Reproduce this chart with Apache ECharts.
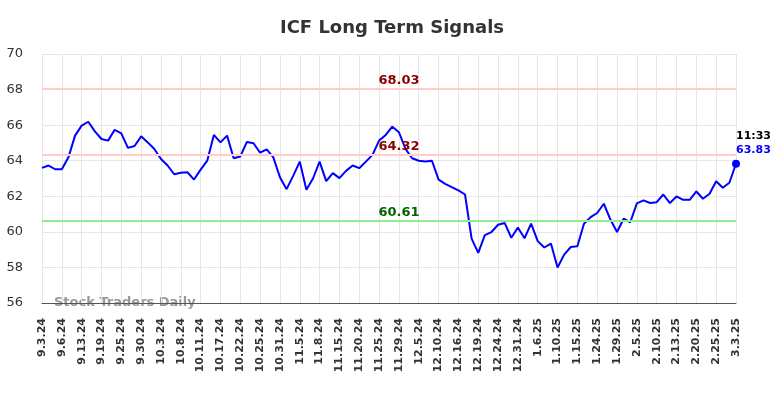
<!DOCTYPE html>
<html>
<head>
<meta charset="utf-8">
<script src="https://cdn.jsdelivr.net/npm/echarts@6/dist/echarts.min.js"></script>
<style>
  html, body { margin: 0; padding: 0; background: #fff; }
  #chart { width: 784px; height: 398px; }
</style>
</head>
<body>
<div id="chart"></div>
<script>
// tick labels, one every third data point
var tickLabels = ['9.3.24','9.6.24','9.13.24','9.19.24','9.25.24','9.30.24','10.3.24','10.8.24',
  '10.11.24','10.17.24','10.22.24','10.25.24','10.31.24','11.5.24','11.8.24','11.15.24','11.20.24',
  '11.25.24','11.29.24','12.5.24','12.10.24','12.16.24','12.19.24','12.24.24','12.31.24','1.6.25',
  '1.10.25','1.15.25','1.24.25','1.29.25','2.5.25','2.10.25','2.13.25','2.20.25','2.25.25','3.3.25'];

var prices = [63.6,63.73,63.52,63.52,64.19,65.41,65.97,66.19,65.65,65.22,65.13,65.74,65.54,64.72,64.83,
  65.37,65.03,64.66,64.1,63.73,63.24,63.32,63.35,62.94,63.5,64.0,65.45,65.03,65.41,64.14,64.24,65.05,
  64.98,64.45,64.64,64.19,63.07,62.4,63.15,63.95,62.37,63.0,63.95,62.85,63.3,63.02,63.43,63.73,63.58,
  63.95,64.33,65.13,65.45,65.91,65.6,64.66,64.14,64.0,63.95,64.0,62.94,62.7,62.51,62.33,62.1,59.62,
  58.82,59.82,59.99,60.4,60.5,59.67,60.24,59.64,60.46,59.48,59.12,59.34,58.0,58.72,59.15,59.19,60.46,
  60.83,61.06,61.58,60.69,59.99,60.74,60.54,61.6,61.77,61.62,61.67,62.1,61.62,61.99,61.8,61.8,62.27,
  61.86,62.14,62.85,62.48,62.76,63.83];

var upperLevel = 68.03;
var midLevel = 64.32;
var lowerLevel = 60.61;
var lastTime = '11:33';

var categories = prices.map(function (v, i) {
  return i % 3 === 0 ? tickLabels[i / 3] : '';
});

var seriesData = prices.map(function (v, i) {
  if (i === prices.length - 1) {
    return {
      value: v,
      symbol: 'circle',
      symbolSize: 8,
      label: {
        show: true,
        position: 'top',
        align: 'left',
        distance: 3,
        formatter: '{t|' + lastTime + '}\n{v|' + v.toFixed(2) + '}',
        rich: {
          t: { color: '#000', fontWeight: 'bold', fontSize: 11, lineHeight: 14, fontFamily: 'DejaVu Sans' },
          v: { color: '#0000ff', fontWeight: 'bold', fontSize: 11, lineHeight: 14, fontFamily: 'DejaVu Sans' }
        }
      }
    };
  }
  return v;
});

var chart = echarts.init(document.getElementById('chart'));
chart.setOption({
  animation: false,
  title: {
    text: 'ICF Long Term Signals',
    left: 'center',
    top: 14,
    textStyle: { fontSize: 18, fontWeight: 'bold', color: '#333', fontFamily: 'DejaVu Sans' }
  },
  grid: { left: 42, right: 48, top: 54, bottom: 95 },
  xAxis: {
    type: 'category',
    data: categories,
    boundaryGap: false,
    axisLine: { lineStyle: { color: '#555', width: 1 } },
    axisTick: { show: false },
    axisLabel: {
      interval: 2,
      rotate: 90,
      fontSize: 11,
      fontWeight: 'bold',
      color: '#333',
      margin: 15,
      fontFamily: 'DejaVu Sans'
    },
    splitLine: { show: true, interval: 2, lineStyle: { color: '#e6e6e6' } }
  },
  yAxis: {
    type: 'value',
    min: 56,
    max: 70,
    interval: 2,
    axisLine: { show: false },
    axisTick: { show: false },
    axisLabel: { fontSize: 13, color: '#333', margin: 19, fontFamily: 'DejaVu Sans' },
    splitLine: { lineStyle: { color: '#e6e6e6' } }
  },
  graphic: [{
    type: 'text',
    left: 54,
    top: 296,
    style: {
      text: 'Stock Traders Daily',
      fill: '#999',
      font: 'bold 13px DejaVu Sans'
    }
  }],
  series: [{
    type: 'line',
    data: seriesData,
    showSymbol: true,
    symbol: 'none',
    lineStyle: { color: '#0000ff', width: 2 },
    itemStyle: { color: '#0000ff' },
    markLine: {
      silent: true,
      symbol: 'none',
      data: [
        { yAxis: upperLevel, lineStyle: { color: '#ffcccc', width: 2, type: 'solid' },
          label: { color: '#8b0000' } },
        { yAxis: midLevel, lineStyle: { color: '#ffcccc', width: 2, type: 'solid' },
          label: { color: '#8b0000' } },
        { yAxis: lowerLevel, lineStyle: { color: '#90ee90', width: 2, type: 'solid' },
          label: { color: '#006400' } }
      ],
      label: {
        position: 'middle',
        formatter: function (p) { return p.value.toFixed(2); },
        fontSize: 13,
        fontWeight: 'bold',
        fontFamily: 'DejaVu Sans',
        distance: 2,
        offset: [10, 0]
      }
    }
  }]
});
</script>
</body>
</html>
